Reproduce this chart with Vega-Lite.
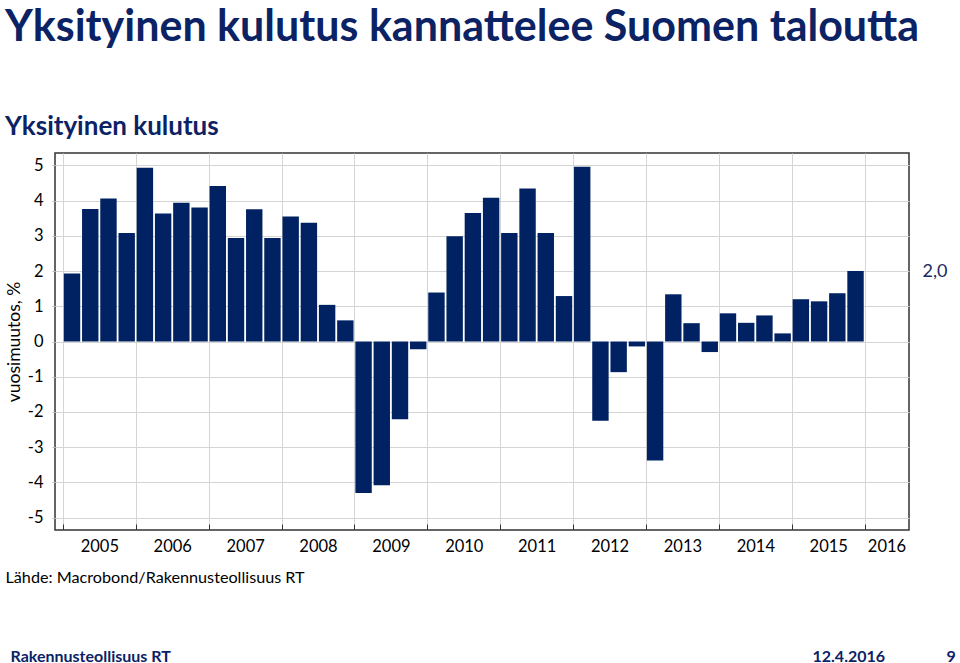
{
  "$schema": "https://vega.github.io/schema/vega-lite/v6.json",
  "width": 854,
  "height": 377,
  "autosize": {"type": "none"},
  "padding": {"left": 55, "top": 153, "right": 51, "bottom": 133},
  "background": "white",
  "config": {
    "font": "Lato",
    "view": {"stroke": "#333333", "strokeWidth": 1.5},
    "axis": {"labelFont": "Lato", "titleFont": "Lato", "labelFlush": false, "labelOverlap": false, "labelBound": false}
  },
  "title": {
    "text": "Yksityinen kulutus kannattelee Suomen taloutta",
    "subtitle": "Yksityinen kulutus",
    "anchor": "start",
    "frame": "group",
    "dx": -50,
    "dy": 1,
    "offset": 14,
    "font": "Lato",
    "fontSize": 43,
    "fontWeight": "bold",
    "color": "#0b2265",
    "subtitleFont": "Lato",
    "subtitleFontSize": 26,
    "subtitleFontWeight": "bold",
    "subtitleColor": "#0b2265",
    "subtitlePadding": 64
  },
  "data": {
    "values": [
      {"kvartaali": "2005Q1", "t": 2005.125, "v": 1.93},
      {"kvartaali": "2005Q2", "t": 2005.375, "v": 3.76},
      {"kvartaali": "2005Q3", "t": 2005.625, "v": 4.06},
      {"kvartaali": "2005Q4", "t": 2005.875, "v": 3.08},
      {"kvartaali": "2006Q1", "t": 2006.125, "v": 4.93},
      {"kvartaali": "2006Q2", "t": 2006.375, "v": 3.63},
      {"kvartaali": "2006Q3", "t": 2006.625, "v": 3.94},
      {"kvartaali": "2006Q4", "t": 2006.875, "v": 3.80},
      {"kvartaali": "2007Q1", "t": 2007.125, "v": 4.41},
      {"kvartaali": "2007Q2", "t": 2007.375, "v": 2.94},
      {"kvartaali": "2007Q3", "t": 2007.625, "v": 3.75},
      {"kvartaali": "2007Q4", "t": 2007.875, "v": 2.94},
      {"kvartaali": "2008Q1", "t": 2008.125, "v": 3.55},
      {"kvartaali": "2008Q2", "t": 2008.375, "v": 3.37},
      {"kvartaali": "2008Q3", "t": 2008.625, "v": 1.04},
      {"kvartaali": "2008Q4", "t": 2008.875, "v": 0.60},
      {"kvartaali": "2009Q1", "t": 2009.125, "v": -4.30},
      {"kvartaali": "2009Q2", "t": 2009.375, "v": -4.08},
      {"kvartaali": "2009Q3", "t": 2009.625, "v": -2.21},
      {"kvartaali": "2009Q4", "t": 2009.875, "v": -0.22},
      {"kvartaali": "2010Q1", "t": 2010.125, "v": 1.39},
      {"kvartaali": "2010Q2", "t": 2010.375, "v": 2.99},
      {"kvartaali": "2010Q3", "t": 2010.625, "v": 3.65},
      {"kvartaali": "2010Q4", "t": 2010.875, "v": 4.08},
      {"kvartaali": "2011Q1", "t": 2011.125, "v": 3.08},
      {"kvartaali": "2011Q2", "t": 2011.375, "v": 4.34},
      {"kvartaali": "2011Q3", "t": 2011.625, "v": 3.08},
      {"kvartaali": "2011Q4", "t": 2011.875, "v": 1.29},
      {"kvartaali": "2012Q1", "t": 2012.125, "v": 4.96},
      {"kvartaali": "2012Q2", "t": 2012.375, "v": -2.25},
      {"kvartaali": "2012Q3", "t": 2012.625, "v": -0.87},
      {"kvartaali": "2012Q4", "t": 2012.875, "v": -0.14},
      {"kvartaali": "2013Q1", "t": 2013.125, "v": -3.38},
      {"kvartaali": "2013Q2", "t": 2013.375, "v": 1.34},
      {"kvartaali": "2013Q3", "t": 2013.625, "v": 0.52},
      {"kvartaali": "2013Q4", "t": 2013.875, "v": -0.30},
      {"kvartaali": "2014Q1", "t": 2014.125, "v": 0.80},
      {"kvartaali": "2014Q2", "t": 2014.375, "v": 0.53},
      {"kvartaali": "2014Q3", "t": 2014.625, "v": 0.74},
      {"kvartaali": "2014Q4", "t": 2014.875, "v": 0.23},
      {"kvartaali": "2015Q1", "t": 2015.125, "v": 1.20},
      {"kvartaali": "2015Q2", "t": 2015.375, "v": 1.14},
      {"kvartaali": "2015Q3", "t": 2015.625, "v": 1.37},
      {"kvartaali": "2015Q4", "t": 2015.875, "v": 2.0}
    ]
  },
  "layer": [
    {
      "mark": {"type": "bar", "width": 16.4, "color": "#002262"},
      "encoding": {
        "x": {
          "field": "t", "type": "quantitative",
          "scale": {"domain": [2004.96, 2016.54], "nice": false, "zero": false},
          "axis": {
            "orient": "bottom",
            "values": [2005, 2006, 2007, 2008, 2009, 2010, 2011, 2012, 2013, 2014, 2015, 2016],
            "grid": true, "gridColor": "#d4d4d4", "gridWidth": 1,
            "labels": false, "ticks": true, "tickSize": -6, "tickColor": "#333333", "domain": false,
            "title": "Lähde: Macrobond/Rakennusteollisuus RT",
            "titleX": -50, "titleY": 47, "titleAlign": "left", "titleBaseline": "middle",
            "titleFontSize": 16.2, "titleFontWeight": "normal", "titleColor": "#000000"
          }
        },
        "y": {
          "field": "v", "type": "quantitative",
          "scale": {"domain": [-5.35, 5.35], "nice": false, "zero": false},
          "axis": {
            "orient": "left",
            "values": [-5, -4, -3, -2, -1, 0, 1, 2, 3, 4, 5],
            "labelExpr": "'' + datum.value",
            "grid": true, "gridColor": "#d4d4d4", "gridWidth": 1,
            "tickSize": 3, "tickColor": "#bbbbbb", "domain": false,
            "labelFontSize": 16.5, "labelPadding": 9, "labelColor": "#000000",
            "title": "vuosimuutos, %",
            "titleX": -41, "titleY": 188.5, "titleAngle": -90, "titleAlign": "center", "titleBaseline": "middle",
            "titleFontSize": 17.5, "titleFontWeight": "normal", "titleColor": "#000000"
          }
        }
      }
    },
    {
      "mark": {"type": "point", "opacity": 0},
      "encoding": {
        "x": {
          "field": "t", "type": "quantitative",
          "axis": {
            "orient": "bottom",
            "values": [2005.5, 2006.5, 2007.5, 2008.5, 2009.5, 2010.5, 2011.5, 2012.5, 2013.5, 2014.5, 2015.5, 2016.3],
            "labelExpr": "'' + floor(datum.value)",
            "grid": false, "ticks": false, "tickSize": 0, "domain": false,
            "labelPadding": 8, "labelFontSize": 16.5, "labelColor": "#000000",
            "title": "Rakennusteollisuus RT",
            "titleX": -45, "titleY": 126, "titleAlign": "left", "titleBaseline": "middle",
            "titleFontSize": 16, "titleFontWeight": "bold", "titleColor": "#0b2265"
          }
        },
        "y": {
          "field": "v", "type": "quantitative",
          "axis": {
            "orient": "right",
            "values": [2],
            "labelExpr": "replace(format(datum.value, '.1f'), '.', ',')",
            "grid": false, "ticks": false, "tickSize": 0, "domain": false,
            "labelPadding": 13, "labelFontSize": 18, "labelColor": "#1a2a5e",
            "title": "12.4.2016",
            "titleAngle": 0, "titleX": -97, "titleY": 503, "titleAlign": "left", "titleBaseline": "middle",
            "titleFontSize": 16, "titleFontWeight": "bold", "titleColor": "#0b2265"
          }
        }
      }
    },
    {
      "mark": {"type": "point", "opacity": 0},
      "encoding": {
        "x": {
          "field": "t", "type": "quantitative",
          "axis": {
            "orient": "top",
            "labels": false, "ticks": false, "grid": false, "domain": false,
            "title": "9",
            "titleX": 891, "titleY": 503, "titleAlign": "left", "titleBaseline": "middle",
            "titleFontSize": 16, "titleFontWeight": "bold", "titleColor": "#0b2265"
          }
        },
        "y": {"field": "v", "type": "quantitative", "axis": null}
      }
    }
  ],
  "resolve": {"axis": {"x": "independent", "y": "independent"}}
}
